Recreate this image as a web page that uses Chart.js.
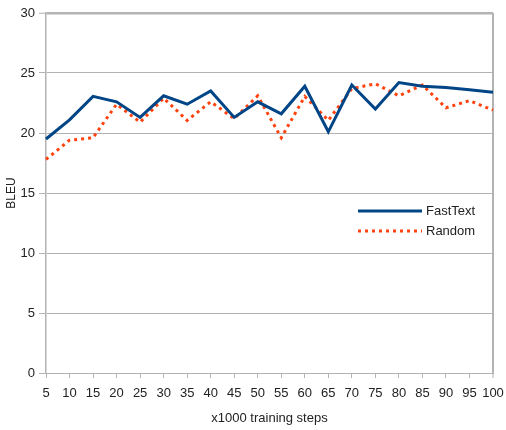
<!DOCTYPE html>
<html>
<head>
<meta charset="utf-8">
<script src="https://cdn.jsdelivr.net/npm/chart.js@4.4.0/dist/chart.umd.min.js"></script>
<style>
  html, body { margin: 0; padding: 0; background: #fff; }
  #wrap { width: 506px; height: 430px; }
</style>
</head>
<body>
<div id="wrap"><canvas id="chart" width="506" height="430"></canvas></div>
<script>
const steps = [5, 10, 15, 20, 25, 30, 35, 40, 45, 50, 55, 60, 65, 70, 75, 80, 85, 90, 95, 100]
const fastText = [19.5, 21.1, 23.05, 22.6, 21.3, 23.1, 22.4, 23.5, 21.3, 22.6, 21.6, 23.9, 20.1, 24.0, 22.0, 24.2, 23.9, 23.8, 23.6, 23.4]
const random = [17.8, 19.4, 19.6, 22.4, 20.9, 22.9, 21.05, 22.6, 21.2, 23.1, 19.6, 23.05, 21.05, 23.7, 24.1, 23.1, 24.0, 22.1, 22.7, 21.9]

const gridGray = '#b3b3b3'
const textColor = '#222'
const font = { family: "'Liberation Sans', Arial, sans-serif", size: 13 }

// legend sits inside the plot, right side
const innerLegend = {
  id: 'innerLegend',
  afterDraw(chart) {
    const ctx = chart.ctx
    ctx.save()
    chart.data.datasets.forEach((ds, i) => {
      const y = 211 + i * 20
      ctx.beginPath()
      ctx.strokeStyle = ds.borderColor
      ctx.lineWidth = ds.borderWidth
      ctx.setLineDash(ds.borderDash || [])
      ctx.moveTo(358, y)
      ctx.lineTo(422, y)
      ctx.stroke()
      ctx.setLineDash([])
      ctx.fillStyle = textColor
      ctx.font = `${font.size}px ${font.family}`
      ctx.textBaseline = 'middle'
      ctx.fillText(ds.label, 426, y)
    })
    ctx.restore()
  }
}

new Chart(document.getElementById('chart'), {
  type: 'line',
  data: {
    labels: steps,
    datasets: [
      {
        label: 'FastText',
        data: fastText,
        borderColor: '#004586',
        borderWidth: 3,
        pointRadius: 0,
        tension: 0
      },
      {
        label: 'Random',
        data: random,
        borderColor: '#ff420e',
        borderWidth: 3,
        borderDash: [3, 4],
        pointRadius: 0,
        tension: 0
      }
    ]
  },
  options: {
    responsive: false,
    animation: false,
    layout: { padding: { left: 0, right: 13, top: 13, bottom: 0 } },
    plugins: {
      legend: { display: false },
      tooltip: { enabled: false }
    },
    scales: {
      x: {
        offset: false,
        afterFit: s => { s.height = 57; s.paddingLeft = 0; s.paddingRight = 0 },
        border: { color: gridGray, width: 1 },
        grid: {
          color: c => c.index === steps.length - 1 ? gridGray : 'transparent',
          lineWidth: c => c.index === steps.length - 1 ? 2 : 1,
          tickColor: gridGray,
          tickWidth: 1,
          tickLength: 5
        },
        ticks: { color: textColor, font, padding: 8, maxRotation: 0, autoSkip: false },
        title: {
          display: true,
          text: 'x1000 training steps',
          color: textColor,
          font: { family: font.family, size: 13 },
          padding: { top: 8 }
        }
      },
      y: {
        min: 0,
        max: 30,
        afterFit: s => { s.width = 46 },
        border: { color: gridGray, width: 1.5 },
        grid: {
          color: gridGray,
          lineWidth: c => c.tick && c.tick.value === 30 ? 2.5 : 1,
          tickColor: gridGray,
          tickWidth: 1,
          tickLength: 7
        },
        ticks: { stepSize: 5, color: textColor, font, padding: 4 },
        title: {
          display: true,
          text: 'BLEU',
          color: textColor,
          font: { family: font.family, size: 12 },
          padding: { bottom: 0 }
        }
      }
    }
  },
  plugins: [innerLegend]
})
</script>
</body>
</html>
